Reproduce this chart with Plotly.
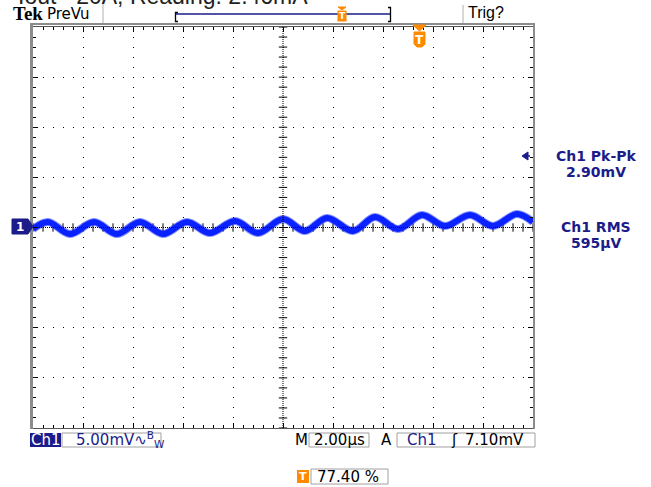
import numpy as np
import plotly.graph_objects as go

# Ch1 trace, read across the screen: time from left edge (µs) and amplitude (mV)
t_us = [0.0, 0.6, 1.48, 2.44, 3.36, 4.28, 5.2, 6.16, 7.08, 8.08, 9.0, 10.0,
        10.88, 11.76, 12.8, 13.68, 14.6, 15.56, 16.48, 17.48, 18.4, 19.36, 20.0]
v_mv = [-0.15, 0.55, -0.65, 0.55, -0.65, 0.55, -0.65, 0.55, -0.55, 0.65, -0.55, 0.85,
        -0.35, 0.95, -0.35, 1.05, -0.15, 1.25, 0.15, 1.25, 0.15, 1.35, 0.55]

# Front-panel readouts
header_text = "Iout= 20A, Reading: 2.46mA"
ch1_volts_div = "5.00mV"
time_div = "2.00µs"
trig_source = "Ch1"
trig_level = "7.10mV"
trig_position = "77.40 %"
meas_names = ["Ch1 Pk-Pk", "Ch1 RMS"]
meas_values = ["2.90mV", "595µV"]

# Graticule: 10 x 2 µs horizontally, 8 x 5 mV vertically
X_RANGE = [0.0, 20.0]
Y_RANGE = [-20.0, 20.0]

# Screen rectangle in page pixels
W, H = 651, 487
L, R, T, B = 33, 533, 27, 428

NAVY = "#1b1b8a"
ORANGE = "#ff8a00"
TRACE = "#0a22ff"
BORDER = "#8c8c8c"
BOXLINE = "#a0a0a0"
FONT = "DejaVu Sans"


def fx(px):
    return (px - L) / (R - L)


def fy(py):
    return (B - py) / (B - T)


def path(points, close=True):
    s = "M " + " L ".join(f"{fx(x):.5f},{fy(y):.5f}" for x, y in points)
    return s + (" Z" if close else "")


shapes = []
annotations = []


def line(x0, y0, x1, y1, color, width=1, dash=None):
    d = dict(type="line", xref="paper", yref="paper", x0=fx(x0), y0=fy(y0), x1=fx(x1), y1=fy(y1),
             line=dict(color=color, width=width))
    if dash:
        d["line"]["dash"] = dash
    shapes.append(d)


def rect(x0, y0, x1, y1, fill=None, edge=None):
    shapes.append(dict(type="rect", xref="paper", yref="paper", x0=fx(x0), y0=fy(y0), x1=fx(x1), y1=fy(y1),
                       fillcolor=fill if fill else "rgba(0,0,0,0)",
                       line=dict(color=edge if edge else "rgba(0,0,0,0)", width=1)))


def poly(points, fill):
    shapes.append(dict(type="path", xref="paper", yref="paper", path=path(points),
                       fillcolor=fill, line=dict(color=fill, width=1)))


def text(s, x, y, size=15, color="black", anchor="left", family=FONT, vanchor="middle"):
    annotations.append(dict(text=s, xref="paper", yref="paper", x=fx(x), y=fy(y), xanchor=anchor,
                            yanchor=vanchor, showarrow=False, borderpad=0,
                            font=dict(family=family, size=size, color=color)))


fig = go.Figure()

# Tick marks along the centre cross
minor_t = np.arange(X_RANGE[0], X_RANGE[1] + 1e-9, 0.4)
minor_v = np.arange(Y_RANGE[0], Y_RANGE[1] + 1e-9, 1.0)
fig.add_trace(go.Scatter(x=minor_t, y=np.zeros_like(minor_t), mode="markers", hoverinfo="skip",
                         marker=dict(symbol="line-ns", size=6, line=dict(color="black", width=1))))
fig.add_trace(go.Scatter(x=np.full_like(minor_v, 10.0), y=minor_v, mode="markers", hoverinfo="skip",
                         marker=dict(symbol="line-ew", size=6, line=dict(color="black", width=1))))

# Waveform: soft edge under a solid core for the noisy band
fig.add_trace(go.Scatter(x=t_us, y=v_mv, mode="lines", hoverinfo="skip", opacity=0.5,
                         line=dict(color=TRACE, width=8, shape="spline")))
fig.add_trace(go.Scatter(x=t_us, y=v_mv, mode="lines", hoverinfo="skip",
                         line=dict(color=TRACE, width=6, shape="spline")))

axis_common = dict(showticklabels=False, zeroline=False, showline=True, linecolor="#555555", linewidth=1,
                   mirror="allticks", showgrid=True, gridcolor="black", gridwidth=1, griddash="1px,9px",
                   ticks="inside", ticklen=5, tickcolor="black", tickwidth=1, fixedrange=True)
fig.update_xaxes(range=X_RANGE, tick0=0, dtick=2,
                 minor=dict(dtick=0.4, ticks="inside", ticklen=3, tickcolor="black", showgrid=False),
                 **axis_common)
fig.update_yaxes(range=Y_RANGE, tick0=0, dtick=5,
                 minor=dict(dtick=1, ticks="inside", ticklen=3, tickcolor="black", showgrid=False),
                 **axis_common)

# Centre cross, finely dotted
line(L + (R - L) / 2, T, L + (R - L) / 2, B, "black", 1, "1px,1px")
line(L, (T + B) / 2, R, (T + B) / 2, "black", 1, "1px,1px")

# Screen bezel
line(31.5, 23, 31.5, 429, BORDER, 3)
line(30, 24, 535, 24, BORDER, 2)
line(534, 23, 534, 429, BORDER, 2)

# Header
text(header_text, 17, 10, size=23, color="#222222", family="Liberation Sans", vanchor="bottom")
text("<b>Tek</b>", 12, 14, size=19, family="Liberation Serif")
text("PreVu", 46, 14, size=15)
line(103, 0, 103, 23, "#b0b0b0", 1)
line(463, 5, 463, 23, "#b0b0b0", 1)
text("Trig?", 467, 13, size=16, family="Liberation Sans")

# Record view bar with trigger position
line(176, 14, 390, 14, NAVY, 1.5)
shapes.append(dict(type="path", xref="paper", yref="paper",
                   path=path([(178, 12.5), (175.5, 12.5), (175.5, 21.5), (178, 21.5)], close=False),
                   line=dict(color="black", width=1.3)))
shapes.append(dict(type="path", xref="paper", yref="paper",
                   path=path([(388, 7.5), (390.5, 7.5), (390.5, 21.5), (388, 21.5)], close=False),
                   line=dict(color="black", width=1.3)))
poly([(338, 7), (346, 7), (342, 10)], ORANGE)
rect(337.5, 10.5, 346.5, 21.5, fill=ORANGE)
text("<b>T</b>", 342, 16, size=9, color="white", anchor="center")

# Trigger point marker on the graticule
poly([(413, 25), (426, 25), (419.5, 31)], ORANGE)
poly([(414, 32), (425, 32), (425, 44), (422, 47), (417, 47), (414, 44)], ORANGE)
text("<b>T</b>", 419.5, 39.5, size=12, color="white", anchor="center")

# Channel 1 ground marker
poly([(12, 219), (28, 219), (33, 226.5), (28, 234), (12, 234)], NAVY)
text("<b>1</b>", 19.5, 226.5, size=12, color="white", anchor="center")

# Measurement readouts
poly([(522, 156), (528, 152), (528, 160)], NAVY)
line(527, 156, 530, 156, NAVY, 1.5)
for name, value, y0 in zip(meas_names, meas_values, [156, 227]):
    text("<b>" + name + "</b>", 596, y0, size=14, color=NAVY, anchor="center")
    text("<b>" + value + "</b>", 596, y0 + 16, size=14, color=NAVY, anchor="center")

# Bottom status line
rect(30, 433, 61, 447, fill=NAVY)
text("Ch1", 45.5, 440, size=15, color="white", anchor="center")
rect(62, 433, 161, 447, edge=BOXLINE)
text(ch1_volts_div + "∿<sup>B</sup><sub>W</sub>", 75, 440, size=15, color=NAVY)
text("M", 301.5, 440, size=15, anchor="center")
rect(309, 433, 369, 447, edge=BOXLINE)
text(time_div, 339, 440, size=15, anchor="center")
text("A", 386, 440, size=15, anchor="center")
rect(397, 433, 535, 447, edge=BOXLINE)
text(trig_source, 406, 440, size=15, color=NAVY)
text("ʃ", 454, 440, size=15, anchor="center")
text(trig_level, 464, 440, size=15)

rect(297, 470, 309, 483, fill=ORANGE)
text("<b>T</b>", 303, 476.5, size=11, color="white", anchor="center")
rect(311, 469, 388, 484, edge=BOXLINE)
text(trig_position, 316, 476.5, size=15)

fig.update_layout(width=W, height=H, margin=dict(l=L, r=W - R, t=T, b=H - B, pad=0),
                  paper_bgcolor="white", plot_bgcolor="white", showlegend=False,
                  shapes=shapes, annotations=annotations)

fig.write_html("out.html", config={"displayModeBar": False})
